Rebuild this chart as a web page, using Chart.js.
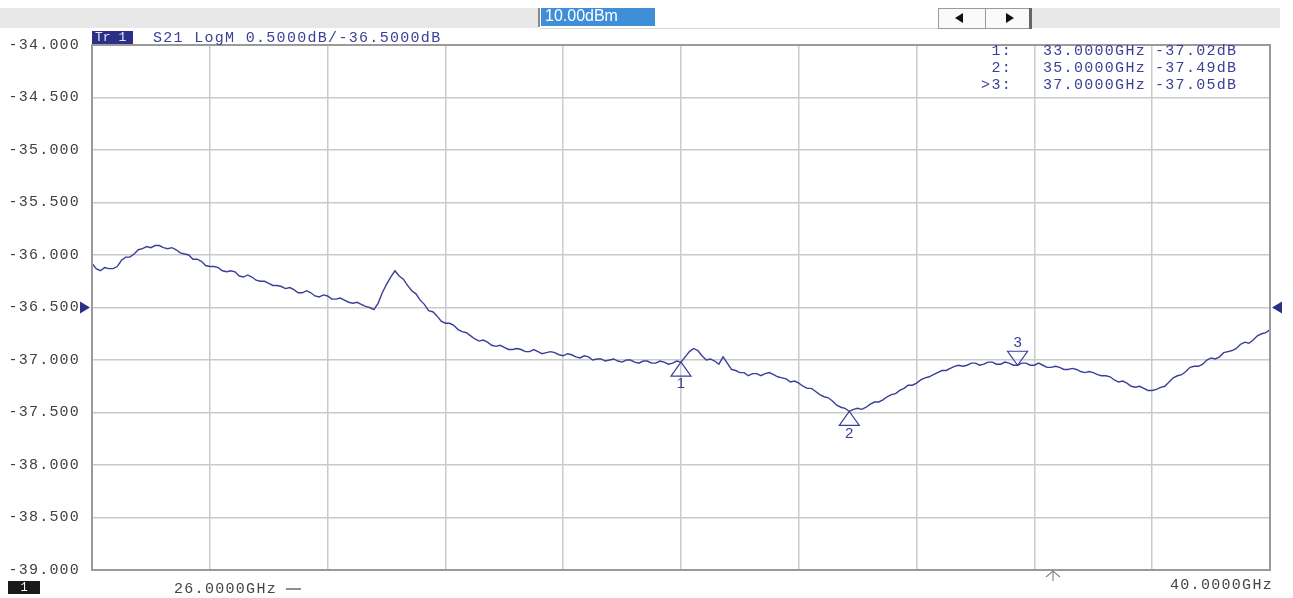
<!DOCTYPE html>
<html>
<head>
<meta charset="utf-8">
<title>S21 LogM</title>
<script src="https://cdn.jsdelivr.net/npm/chart.js@4/dist/chart.umd.min.js"></script>
<style>
  html, body { margin: 0; padding: 0; background: #fff; }
  canvas { display: block; }
</style>
</head>
<body>
<canvas id="vna" width="1293" height="598"></canvas>
<script>
const freqs = [
  26.00, 26.05, 26.10, 26.15, 26.20, 26.25, 26.30, 26.35, 26.40, 26.45, 26.50, 26.55, 26.60, 26.65, 26.70, 26.75, 26.80, 26.85, 26.90, 26.95,
  27.00, 27.05, 27.10, 27.15, 27.20, 27.25, 27.30, 27.35, 27.40, 27.45, 27.50, 27.55, 27.60, 27.65, 27.70, 27.75, 27.80, 27.85, 27.90, 27.95,
  28.00, 28.05, 28.10, 28.15, 28.20, 28.25, 28.30, 28.35, 28.40, 28.45, 28.50, 28.55, 28.60, 28.65, 28.70, 28.75, 28.80, 28.85, 28.90, 28.95,
  29.00, 29.05, 29.10, 29.15, 29.20, 29.25, 29.30, 29.35, 29.40, 29.45, 29.50, 29.55, 29.60, 29.65, 29.70, 29.75, 29.80, 29.85, 29.90, 29.95,
  30.00, 30.05, 30.10, 30.15, 30.20, 30.25, 30.30, 30.35, 30.40, 30.45, 30.50, 30.55, 30.60, 30.65, 30.70, 30.75, 30.80, 30.85, 30.90, 30.95,
  31.00, 31.05, 31.10, 31.15, 31.20, 31.25, 31.30, 31.35, 31.40, 31.45, 31.50, 31.55, 31.60, 31.65, 31.70, 31.75, 31.80, 31.85, 31.90, 31.95,
  32.00, 32.05, 32.10, 32.15, 32.20, 32.25, 32.30, 32.35, 32.40, 32.45, 32.50, 32.55, 32.60, 32.65, 32.70, 32.75, 32.80, 32.85, 32.90, 32.95,
  33.00, 33.05, 33.10, 33.15, 33.20, 33.25, 33.30, 33.35, 33.40, 33.45, 33.50, 33.55, 33.60, 33.65, 33.70, 33.75, 33.80, 33.85, 33.90, 33.95,
  34.00, 34.05, 34.10, 34.15, 34.20, 34.25, 34.30, 34.35, 34.40, 34.45, 34.50, 34.55, 34.60, 34.65, 34.70, 34.75, 34.80, 34.85, 34.90, 34.95,
  35.00, 35.05, 35.10, 35.15, 35.20, 35.25, 35.30, 35.35, 35.40, 35.45, 35.50, 35.55, 35.60, 35.65, 35.70, 35.75, 35.80, 35.85, 35.90, 35.95,
  36.00, 36.05, 36.10, 36.15, 36.20, 36.25, 36.30, 36.35, 36.40, 36.45, 36.50, 36.55, 36.60, 36.65, 36.70, 36.75, 36.80, 36.85, 36.90, 36.95,
  37.00, 37.05, 37.10, 37.15, 37.20, 37.25, 37.30, 37.35, 37.40, 37.45, 37.50, 37.55, 37.60, 37.65, 37.70, 37.75, 37.80, 37.85, 37.90, 37.95,
  38.00, 38.05, 38.10, 38.15, 38.20, 38.25, 38.30, 38.35, 38.40, 38.45, 38.50, 38.55, 38.60, 38.65, 38.70, 38.75, 38.80, 38.85, 38.90, 38.95,
  39.00, 39.05, 39.10, 39.15, 39.20, 39.25, 39.30, 39.35, 39.40, 39.45, 39.50, 39.55, 39.60, 39.65, 39.70, 39.75, 39.80, 39.85, 39.90, 39.95,
  40.00
];

const s21 = [
  -36.08, -36.13, -36.15, -36.12, -36.13, -36.13, -36.11, -36.05, -36.02, -36.02, -35.99, -35.95, -35.94, -35.92, -35.93, -35.91, -35.91, -35.93, -35.94, -35.93,
  -35.95, -35.98, -35.99, -36.00, -36.04, -36.04, -36.06, -36.10, -36.11, -36.11, -36.12, -36.15, -36.16, -36.15, -36.16, -36.20, -36.21, -36.19, -36.21, -36.24,
  -36.25, -36.25, -36.27, -36.29, -36.29, -36.30, -36.32, -36.31, -36.33, -36.36, -36.36, -36.34, -36.36, -36.39, -36.40, -36.38, -36.39, -36.42, -36.42, -36.41,
  -36.43, -36.45, -36.46, -36.45, -36.47, -36.49, -36.50, -36.52, -36.46, -36.36, -36.28, -36.21, -36.15, -36.20, -36.23, -36.29, -36.34, -36.37, -36.43, -36.47,
  -36.53, -36.54, -36.58, -36.63, -36.65, -36.65, -36.67, -36.71, -36.73, -36.74, -36.77, -36.80, -36.82, -36.81, -36.83, -36.86, -36.87, -36.86, -36.88, -36.90,
  -36.90, -36.89, -36.90, -36.92, -36.92, -36.90, -36.92, -36.94, -36.93, -36.92, -36.93, -36.95, -36.96, -36.94, -36.95, -36.97, -36.98, -36.96, -36.97, -37.00,
  -36.99, -36.99, -37.01, -37.00, -36.99, -37.01, -37.02, -37.00, -37.00, -37.02, -37.03, -37.01, -37.01, -37.03, -37.03, -37.01, -37.02, -37.04, -37.03, -37.01,
  -37.02, -36.97, -36.92, -36.89, -36.91, -36.96, -37.00, -36.99, -37.01, -37.04, -36.97, -37.03, -37.09, -37.10, -37.12, -37.12, -37.15, -37.13, -37.13, -37.15,
  -37.13, -37.12, -37.14, -37.16, -37.17, -37.18, -37.21, -37.20, -37.22, -37.25, -37.27, -37.27, -37.30, -37.33, -37.35, -37.36, -37.39, -37.43, -37.45, -37.46,
  -37.49, -37.47, -37.46, -37.47, -37.45, -37.42, -37.40, -37.40, -37.38, -37.35, -37.33, -37.32, -37.29, -37.27, -37.24, -37.24, -37.22, -37.19, -37.17, -37.16,
  -37.14, -37.12, -37.10, -37.10, -37.08, -37.06, -37.05, -37.06, -37.05, -37.03, -37.03, -37.05, -37.04, -37.02, -37.02, -37.04, -37.04, -37.02, -37.03, -37.05,
  -37.05, -37.03, -37.03, -37.05, -37.05, -37.03, -37.05, -37.07, -37.07, -37.06, -37.07, -37.09, -37.09, -37.08, -37.09, -37.11, -37.12, -37.11, -37.12, -37.14,
  -37.15, -37.15, -37.16, -37.19, -37.21, -37.20, -37.22, -37.25, -37.26, -37.25, -37.27, -37.29, -37.29, -37.28, -37.26, -37.25, -37.21, -37.17, -37.15, -37.14,
  -37.11, -37.07, -37.06, -37.06, -37.04, -37.00, -36.98, -36.99, -36.97, -36.93, -36.92, -36.91, -36.89, -36.85, -36.83, -36.84, -36.81, -36.77, -36.75, -36.74,
  -36.71
];

// markers
const markerFreqs = [33.0, 35.0, 37.0];
const markerVals = [-37.02, -37.49, -37.05];
const markerLabels = ["1", "2", "3"];
const markerUp = [true, true, false];

// grid / axis
const xGrid = [26.0, 27.4, 28.8, 30.2, 31.6, 33.0, 34.4, 35.8, 37.2, 38.6, 40.0];
const refLevel = -36.5;

const NAVY = "#3b3f96";
const MONO = "'Liberation Mono', 'DejaVu Sans Mono', monospace";

/* ---- background, header, marker table, footer ---- */
const decorPlugin = {
  id: "decor",
  beforeDraw(chart) {
    const ctx = chart.ctx;
    ctx.save();
    ctx.fillStyle = "#fff";
    ctx.fillRect(0, 0, chart.width, chart.height);

    // top bar
    ctx.fillStyle = "#e8e8e8";
    ctx.fillRect(0, 8, 538, 20);
    ctx.fillRect(1032, 8, 248, 20);
    ctx.strokeStyle = "#d8d8d8";
    ctx.lineWidth = 1;
    ctx.beginPath();
    ctx.moveTo(540, 28.5);
    ctx.lineTo(938, 28.5);
    ctx.stroke();
    ctx.fillStyle = "#8a8a8a";
    ctx.fillRect(538, 8, 2, 19);
    ctx.fillStyle = "#3f8fd8";
    ctx.fillRect(541, 8, 114, 18);
    ctx.fillStyle = "#fff";
    ctx.font = "16px 'Liberation Sans', Arial, sans-serif";
    ctx.textBaseline = "middle";
    ctx.textAlign = "left";
    ctx.fillText("10.00dBm", 545, 17);

    // arrow buttons
    ctx.fillStyle = "#fafafa";
    ctx.fillRect(938, 8, 92, 20);
    ctx.strokeStyle = "#9a9a9a";
    ctx.lineWidth = 1;
    ctx.strokeRect(938.5, 8.5, 91, 20);
    ctx.beginPath();
    ctx.moveTo(985.5, 8);
    ctx.lineTo(985.5, 28);
    ctx.stroke();
    ctx.fillStyle = "#666";
    ctx.fillRect(1029, 8, 3, 21);
    ctx.fillStyle = "#111";
    ctx.beginPath();
    ctx.moveTo(955, 18); ctx.lineTo(963, 13); ctx.lineTo(963, 23); ctx.closePath();
    ctx.fill();
    ctx.beginPath();
    ctx.moveTo(1014, 18); ctx.lineTo(1006, 13); ctx.lineTo(1006, 23); ctx.closePath();
    ctx.fill();
    ctx.restore();

    // wider glyph spacing for the axis labels, like the analyser font
    ctx.letterSpacing = "1.2px";
  },
  afterDraw(chart) {
    const ctx = chart.ctx;
    const area = chart.chartArea;
    const xs = chart.scales.x;
    const ys = chart.scales.y;
    ctx.save();

    // frame
    ctx.strokeStyle = "#9a9a9a";
    ctx.lineWidth = 2;
    ctx.strokeRect(area.left, area.top, area.right - area.left, area.bottom - area.top);

    // trace header
    ctx.fillStyle = "#2c2f86";
    ctx.fillRect(92, 31, 41, 13);
    ctx.letterSpacing = "0px";
    ctx.font = "13px " + MONO;
    ctx.fillStyle = "#dfe4ff";
    ctx.textBaseline = "middle";
    ctx.textAlign = "left";
    ctx.fillText("Tr 1", 95, 38);
    ctx.font = "15px " + MONO;
    ctx.letterSpacing = "1.3px";
    ctx.fillStyle = NAVY;
    ctx.fillText("S21 LogM 0.5000dB/-36.5000dB", 153, 38);

    // marker table
    const rowY = [51, 68, 85];
    markerFreqs.forEach((f, i) => {
      ctx.textAlign = "right";
      ctx.fillText((i === 2 ? ">" : "") + markerLabels[i] + ":", 1012, rowY[i]);
      ctx.textAlign = "left";
      ctx.fillText(f.toFixed(4) + "GHz", 1043, rowY[i]);
      ctx.fillText(markerVals[i].toFixed(2) + "dB", 1155, rowY[i]);
    });

    // reference level triangles
    const yr = ys.getPixelForValue(refLevel);
    ctx.fillStyle = "#2c3088";
    ctx.beginPath();
    ctx.moveTo(90, yr); ctx.lineTo(80, yr - 6); ctx.lineTo(80, yr + 6); ctx.closePath();
    ctx.fill();
    ctx.beginPath();
    ctx.moveTo(area.right + 2, yr); ctx.lineTo(area.right + 12, yr - 6); ctx.lineTo(area.right + 12, yr + 6); ctx.closePath();
    ctx.fill();

    // markers
    ctx.strokeStyle = NAVY;
    ctx.lineWidth = 1.2;
    ctx.letterSpacing = "0px";
    ctx.font = "15px 'Liberation Sans', sans-serif";
    ctx.fillStyle = NAVY;
    ctx.textAlign = "center";
    markerFreqs.forEach((f, i) => {
      const px = xs.getPixelForValue(f);
      const py = ys.getPixelForValue(markerVals[i]);
      const d = markerUp[i] ? 1 : -1;
      ctx.beginPath();
      ctx.moveTo(px, py);
      ctx.lineTo(px - 10, py + d * 14);
      ctx.lineTo(px + 10, py + d * 14);
      ctx.closePath();
      ctx.stroke();
      ctx.fillText(markerLabels[i], px, py + d * 22);
    });

    // footer
    ctx.fillStyle = "#1a1a1a";
    ctx.fillRect(8, 581, 32, 13);
    ctx.fillStyle = "#fff";
    ctx.font = "12px " + MONO;
    ctx.fillText("1", 24, 588);
    ctx.fillStyle = "#444";
    ctx.font = "15px " + MONO;
    ctx.letterSpacing = "1.3px";
    ctx.textAlign = "left";
    ctx.fillText("26.0000GHz", 174, 589);
    ctx.fillText("40.0000GHz", 1170, 585);
    ctx.strokeStyle = "#444";
    ctx.lineWidth = 1.2;
    ctx.beginPath();
    ctx.moveTo(286, 589); ctx.lineTo(301, 589);
    ctx.stroke();

    // stimulus arrow
    ctx.strokeStyle = "#888";
    ctx.beginPath();
    ctx.moveTo(1053, 571); ctx.lineTo(1053, 581);
    ctx.moveTo(1046, 577); ctx.lineTo(1053, 571); ctx.lineTo(1060, 577);
    ctx.stroke();
    ctx.restore();
  }
};

new Chart(document.getElementById("vna"), {
  type: "line",
  data: {
    datasets: [
      {
        label: "S21",
        data: freqs.map((f, i) => ({ x: f, y: s21[i] })),
        borderColor: NAVY,
        borderWidth: 1.4,
        pointRadius: 0,
        tension: 0,
        fill: false,
      },
    ],
  },
  options: {
    responsive: false,
    animation: false,
    devicePixelRatio: 1,
    layout: { padding: { left: 0, top: 45, right: 23, bottom: 28 } },
    plugins: {
      legend: { display: false },
      tooltip: { enabled: false },
    },
    scales: {
      x: {
        type: "linear",
        min: 26,
        max: 40,
        afterBuildTicks: (scale) => {
          scale.ticks = xGrid.map((v) => ({ value: v }));
        },
        afterFit: (scale) => { scale.height = 0; },
        ticks: { display: false },
        grid: { color: "#cacaca", lineWidth: 1.5, drawTicks: false },
        border: { display: false },
      },
      y: {
        min: -39,
        max: -34,
        afterFit: (scale) => { scale.width = 92; },
        ticks: {
          stepSize: 0.5,
          padding: 12,
          color: "#404040",
          font: { family: MONO, size: 15 },
          callback: (v) => v.toFixed(3),
        },
        grid: { color: "#cacaca", lineWidth: 1.5, drawTicks: false },
        border: { display: false },
      },
    },
  },
  plugins: [decorPlugin],
});
</script>
</body>
</html>
